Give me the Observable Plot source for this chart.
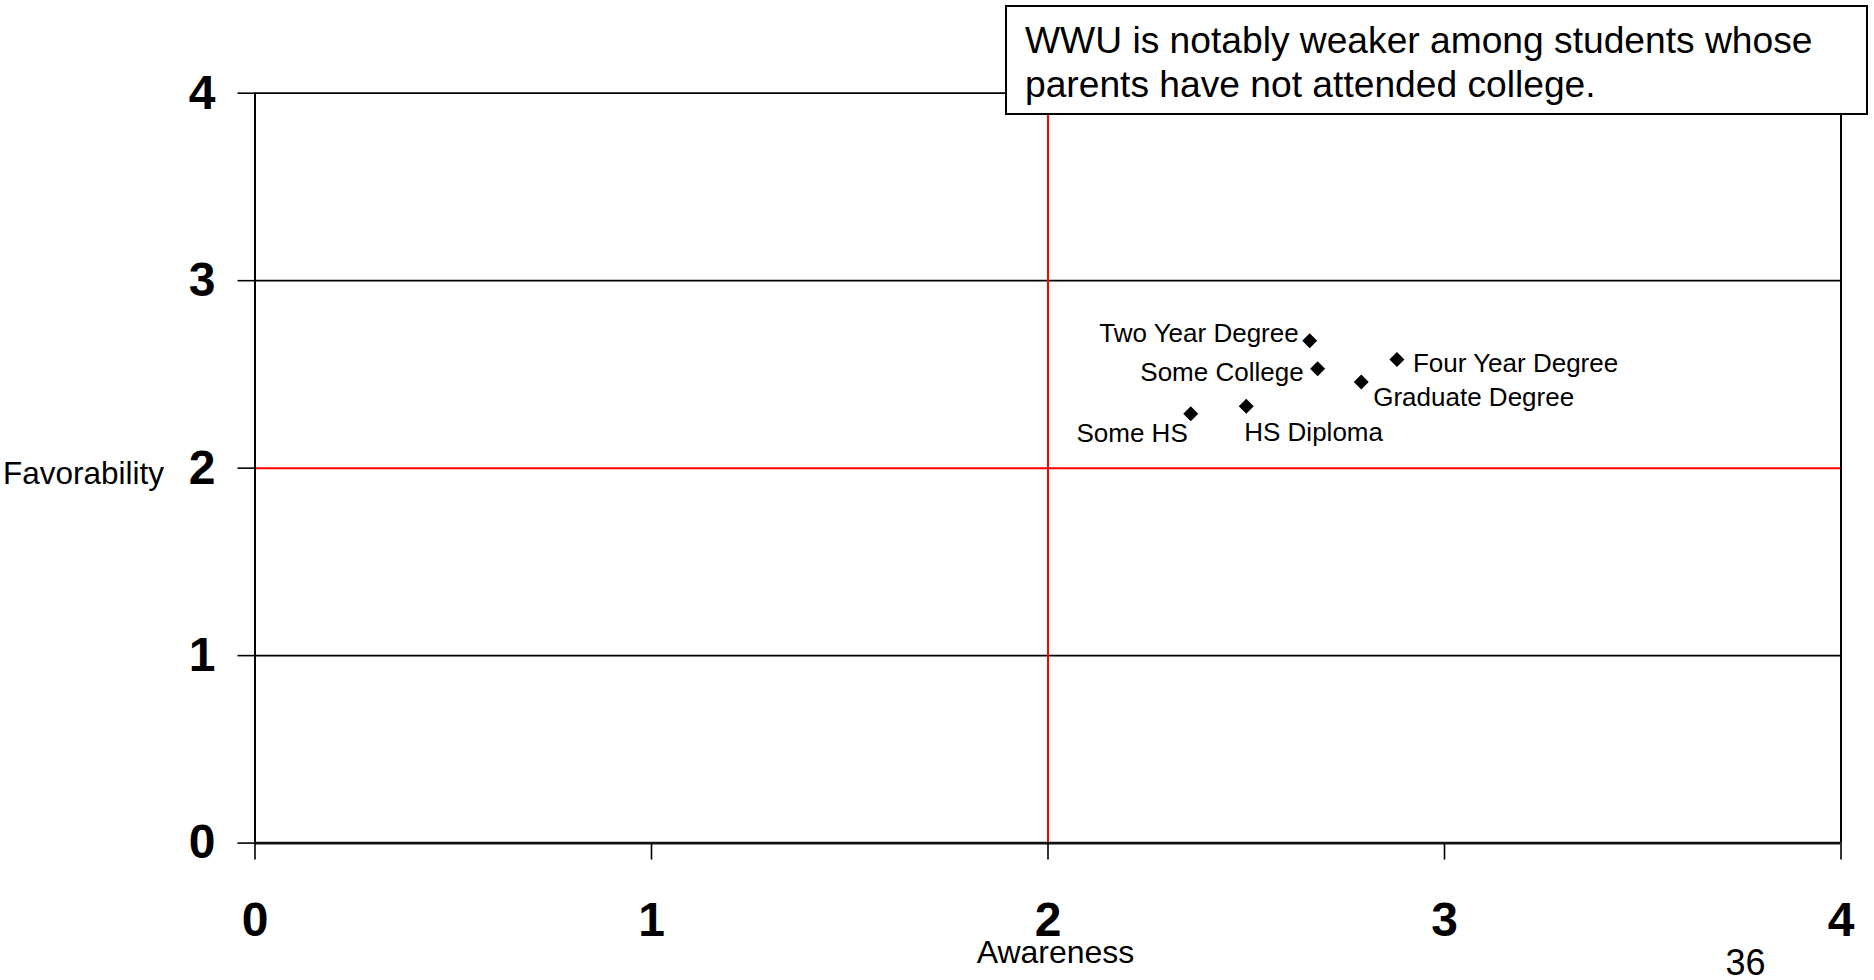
<!DOCTYPE html>
<html>
<head>
<meta charset="utf-8">
<script src="https://cdn.jsdelivr.net/npm/d3@7"></script>
<script src="https://cdn.jsdelivr.net/npm/@observablehq/plot@0.6"></script>
<style>
  html, body { margin: 0; padding: 0; background: #fff; }
  #wrap { position: relative; width: 1874px; height: 980px; overflow: hidden; font-family: "Liberation Sans", Arial, sans-serif; }
  #chart { position: absolute; left: 0; top: 0; }
  #note {
    position: absolute; left: 1005px; top: 5px; width: 863px; height: 110px;
    box-sizing: border-box; border: 2px solid #000; background: #fff;
    padding: 11px 0 0 18px; font-size: 37.2px; line-height: 44.3px; color: #000; white-space: nowrap;
  }
</style>
</head>
<body>
<div id="wrap">
  <div id="chart"></div>
  <div id="note">WWU is notably weaker among students whose<br>parents have not attended college.</div>
</div>
<script>
// ---- data ----
const categories = ["Two Year Degree", "Some College", "Four Year Degree", "Graduate Degree", "HS Diploma", "Some HS"];
const awareness = [2.66, 2.68, 2.88, 2.79, 2.50, 2.36];
const favorability = [2.68, 2.53, 2.58, 2.46, 2.33, 2.29];
const tickValues = [0, 1, 2, 3, 4];
const midpoint = [2];
const xTitle = "Awareness";
const yTitle = "Favorability";
const pageNumber = "36";

// label placement (layout only)
const labelPlacement = {
  "Two Year Degree": {textAnchor: "end", dx: -11, dy: -7},
  "Some College": {textAnchor: "end", dx: -14, dy: 4},
  "Four Year Degree": {textAnchor: "start", dx: 16, dy: 4},
  "Graduate Degree": {textAnchor: "start", dx: 12, dy: 16},
  "HS Diploma": {textAnchor: "start", dx: -2, dy: 26},
  "Some HS": {textAnchor: "end", dx: -3, dy: 20}
};

const rows = categories.map((c, i) => ({name: c, x: awareness[i], y: favorability[i]}));
const gridY = tickValues.filter(v => v !== 0 && !midpoint.includes(v));

const labelMarks = rows.map(r => Plot.text([r], {
  x: "x", y: "y", text: "name",
  ...labelPlacement[r.name],
  fontSize: 26, fill: "#000"
}));

const chart = Plot.plot({
  width: 1874,
  height: 980,
  marginLeft: 254.5,
  marginRight: 33.5,
  marginTop: 92.7,
  marginBottom: 137.4,
  style: {fontFamily: "'Liberation Sans', Arial, sans-serif", background: "transparent", overflow: "visible", color: "#000"},
  x: {domain: [0, 4], label: null},
  y: {domain: [0, 4], label: null},
  marks: [
    Plot.ruleY(gridY, {stroke: "#000", strokeWidth: 1.7}),
    Plot.ruleY(midpoint, {stroke: "#ff0000", strokeWidth: 2}),
    Plot.ruleX(midpoint, {stroke: "#ff0000", strokeWidth: 2}),
    Plot.ruleX([tickValues[0], tickValues[tickValues.length - 1]], {stroke: "#000", strokeWidth: 2}),
    Plot.ruleY([tickValues[0]], {stroke: "#111", strokeWidth: 2.8}),
    Plot.axisX({ticks: tickValues, tickSize: 17, tickPadding: 42, strokeWidth: 1.6, fontSize: 48, fontWeight: "bold", tickFormat: d => String(d), label: null}),
    Plot.axisY({ticks: tickValues, tickSize: 17, tickPadding: 22.5, strokeWidth: 1.6, fontSize: 48, fontWeight: "bold", tickFormat: d => String(d), label: null}),
    Plot.dot(rows, {x: "x", y: "y", symbol: "diamond2", r: 6.75, fill: "#000", stroke: "none"}),
    ...labelMarks,
    Plot.text([xTitle], {frameAnchor: "bottom", lineAnchor: "middle", dx: 7.5, dy: 110, fontSize: 32, fill: "#000"}),
    Plot.text([yTitle], {frameAnchor: "left", lineAnchor: "middle", textAnchor: "start", dx: -252, dy: 6, fontSize: 31.5, fill: "#000"}),
    Plot.text([pageNumber], {frameAnchor: "bottom-right", lineAnchor: "middle", dx: -75.5, dy: 120, fontSize: 36, fill: "#000"})
  ]
});
document.getElementById("chart").appendChild(chart);
</script>
</body>
</html>
